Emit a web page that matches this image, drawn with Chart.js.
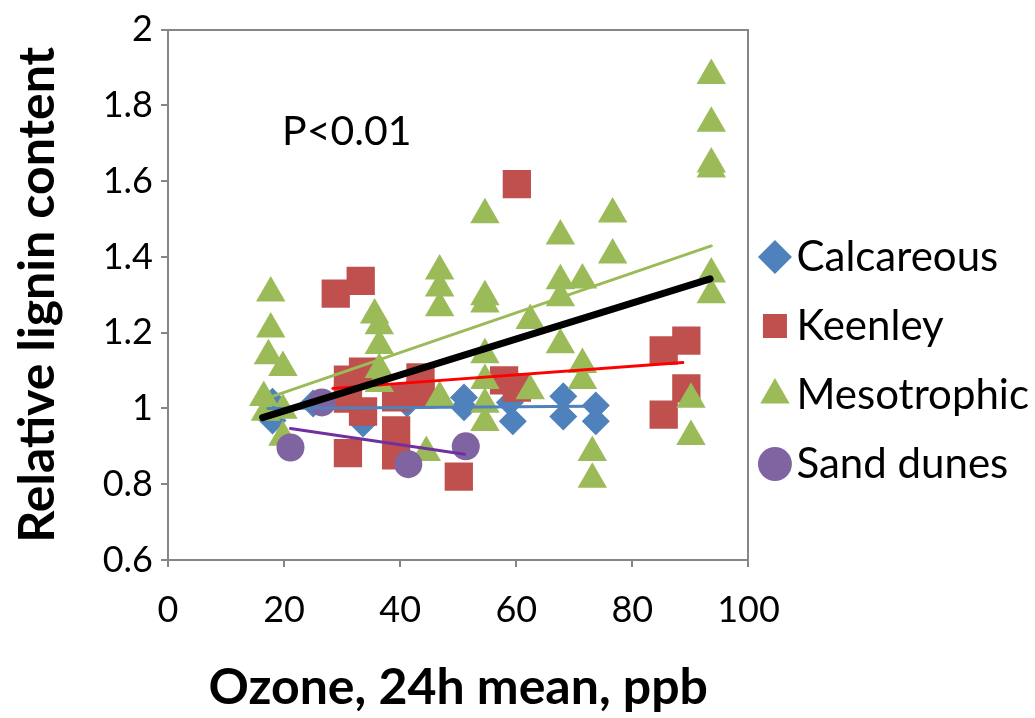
<!DOCTYPE html>
<html>
<head>
<meta charset="utf-8">
<script src="https://cdn.jsdelivr.net/npm/chart.js@4.4.1/dist/chart.umd.min.js"></script>
<style>
  html, body { margin: 0; padding: 0; background: #fff; }
</style>
</head>
<body>
<canvas id="grafica" width="1035" height="718"></canvas>
<script>
// 🔹 DATOS
const categorias = ['Calcareous', 'Keenley', 'Mesotrophic', 'Sand dunes'];

const calcareousX = [18, 18, 25, 33.6, 41.2, 51, 51, 58.9, 59.4, 68.1, 68.1, 73.7, 73.7];
const calcareousY = [1.018, 0.968, 1.013, 0.96, 1.013, 1.029, 1.003, 1.016, 0.966, 1.032, 0.979, 1.008, 0.966];

const keenleyX = [28.9, 33.2, 31.0, 31.0, 33.6, 33.6, 31.0, 39.3, 39.3, 39.3, 43.5, 43.5, 50.1, 57.9, 60.1, 60.1, 85.4, 89.3, 85.4, 89.3];
const keenleyY = [1.303, 1.337, 1.076, 1.026, 1.097, 0.992, 0.882, 1.029, 0.942, 0.876, 1.082, 1.037, 0.82, 1.074, 1.055, 1.592, 1.153, 1.179, 0.984, 1.053];

const mesoX = [17.7, 17.7, 17.3, 19.8, 16.5, 16.8, 19.8, 19.8,
  35.6, 36.4, 36.4, 36.4, 36.4,
  46.8, 46.8, 46.8, 46.8, 44.5,
  54.6, 54.6, 54.6, 54.6, 54.6, 54.6, 54.6,
  62.4, 62.4, 67.6, 67.6, 67.6, 67.6,
  71.4, 71.4, 71.4, 73.1, 73.1, 76.6, 76.6,
  90.1, 90.1, 93.6, 93.6, 93.6, 93.6, 93.6, 93.6];
const mesoY = [1.305, 1.21, 1.139, 1.108, 1.029, 0.99, 0.995, 0.924,
  1.247, 1.218, 1.166, 1.103, 1.066,
  1.363, 1.318, 1.266, 1.029, 0.884,
  1.511, 1.295, 1.276, 1.142, 1.074, 1.011, 0.963,
  1.232, 1.047, 1.455, 1.337, 1.292, 1.168,
  1.339, 1.116, 1.074, 0.884, 0.813, 1.513, 1.405,
  1.024, 0.926, 1.879, 1.753, 1.645, 1.632, 1.355, 1.30];

const sandX = [21.1, 26.5, 41.4, 51.3];
const sandY = [0.897, 1.016, 0.853, 0.90];

// líneas de tendencia: [x inicio, x fin] y [y inicio, y fin]
const tendCalcX = [17.2, 72.4], tendCalcY = [1.0, 1.006];
const tendKeenX = [28.4, 88.7], tendKeenY = [1.053, 1.121];
const tendMesoX = [18, 93.6], tendMesoY = [1.032, 1.429];
const tendSandX = [21.1, 51.1], tendSandY = [0.947, 0.879];
const tendTodoX = [16.3, 93.4], tendTodoY = [0.976, 1.342];

const xTicks = [0, 20, 40, 60, 80, 100];
const yTicks = [0.6, 0.8, 1, 1.2, 1.4, 1.6, 1.8, 2];
const yTickLabels = ['0.6', '0.8', '1', '1.2', '1.4', '1.6', '1.8', '2'];

const pTexto = 'P<0.01';
const pPos = [30.8, 1.73];

const puntos = (xs, ys) => xs.map((x, i) => ({ x: x, y: ys[i] }));

const GRIS = '#868686';
const FUENTE = 'Lato';

// 🔹 TEXTO P<0.01
const textoP = {
  id: 'textoP',
  afterDatasetsDraw(chart) {
    const { ctx, scales } = chart;
    ctx.save();
    ctx.font = '41px ' + FUENTE;
    ctx.fillStyle = '#000';
    ctx.textAlign = 'center';
    ctx.textBaseline = 'middle';
    ctx.fillText(pTexto, scales.x.getPixelForValue(pPos[0]), scales.y.getPixelForValue(pPos[1]));
    ctx.restore();
  }
};

function lineaTend(xs, ys, color, ancho, orden) {
  return {
    type: 'line',
    data: puntos(xs, ys),
    borderColor: color,
    borderWidth: ancho,
    borderCapStyle: 'round',
    pointRadius: 0,
    fill: false,
    order: orden
  };
}

function dibujar() {
  const ctx = document.getElementById('grafica').getContext('2d');

  new Chart(ctx, {
    type: 'scatter',
    data: {
      datasets: [
        { label: categorias[0], data: puntos(calcareousX, calcareousY), pointStyle: 'rectRot', pointRadius: 14,
          backgroundColor: '#4F81BD', borderColor: '#4F81BD', borderWidth: 0, order: 8 },
        { label: categorias[1], data: puntos(keenleyX, keenleyY), pointStyle: 'rect', pointRadius: 20,
          backgroundColor: '#C0504D', borderColor: '#C0504D', borderWidth: 0, order: 7 },
        { label: categorias[2], data: puntos(mesoX, mesoY), pointStyle: 'triangle', pointRadius: 17,
          backgroundColor: '#9BBB59', borderColor: '#9BBB59', borderWidth: 0, order: 6 },
        { label: categorias[3], data: puntos(sandX, sandY), pointStyle: 'circle', pointRadius: 14,
          backgroundColor: '#8064A2', borderColor: '#8064A2', borderWidth: 0, order: 5 },
        lineaTend(tendCalcX, tendCalcY, '#4F81BD', 3, 4),
        lineaTend(tendKeenX, tendKeenY, '#FF0000', 3, 3),
        lineaTend(tendMesoX, tendMesoY, '#9BBB59', 3, 2),
        lineaTend(tendSandX, tendSandY, '#7030A0', 3, 1),
        lineaTend(tendTodoX, tendTodoY, '#000000', 7, 0)
      ]
    },
    options: {
      responsive: false,
      animation: false,
      events: [],
      layout: { padding: { top: 4, right: -4, bottom: 0, left: 0 } },
      plugins: {
        tooltip: { enabled: false },
        legend: {
          position: 'right',
          maxWidth: 340,
          labels: {
            usePointStyle: true,
            boxWidth: 1,
            boxHeight: 24,
            padding: 26,
            color: '#000',
            font: { family: FUENTE, size: 42, lineHeight: 1.024 },
            // texto en arreglo para que la altura de cada fila use lineHeight
            generateLabels: chart => Chart.defaults.plugins.legend.labels.generateLabels(chart)
              .map(item => Object.assign(item, { text: [item.text] })),
            filter: item => item.datasetIndex < 4,
            sort: (a, b) => a.datasetIndex - b.datasetIndex
          }
        }
      },
      scales: {
        x: {
          type: 'linear',
          min: 0,
          max: 100,
          afterBuildTicks: s => { s.ticks = xTicks.map(v => ({ value: v })); },
          afterFit: s => { s.height = 158; },
          ticks: { color: '#000', font: { family: FUENTE, size: 36 }, padding: 22 },
          grid: { drawOnChartArea: false, drawTicks: true, tickLength: 7, color: GRIS, lineWidth: 2 },
          border: { color: GRIS, width: 2 },
          title: {
            display: true,
            text: 'Ozone, 24h mean, ppb',
            color: '#000',
            font: { family: FUENTE, size: 50, weight: 'bold' },
            padding: { top: 0, bottom: 0 }
          }
        },
        x2: {
          type: 'linear',
          position: 'top',
          min: 0,
          max: 100,
          afterFit: s => { s.height = 24; },
          ticks: { display: false },
          grid: { display: false },
          border: { color: GRIS, width: 2 }
        },
        y: {
          type: 'linear',
          min: 0.6,
          max: 2,
          afterBuildTicks: s => { s.ticks = yTicks.map(v => ({ value: v })); },
          afterFit: s => { s.width = 168; },
          ticks: {
            color: '#000',
            font: { family: FUENTE, size: 36 },
            padding: 8,
            callback: (v, i) => yTickLabels[i]
          },
          grid: { drawOnChartArea: false, drawTicks: true, tickLength: 7, color: GRIS, lineWidth: 2 },
          border: { color: GRIS, width: 2 },
          title: {
            display: true,
            text: 'Relative lignin content',
            color: '#000',
            font: { family: FUENTE, size: 50, weight: 'bold' },
            padding: { top: 8, bottom: 0 }
          }
        },
        y2: {
          type: 'linear',
          position: 'right',
          min: 0.6,
          max: 2,
          afterFit: s => { s.width = 0; },
          ticks: { display: false },
          grid: { display: false },
          border: { color: GRIS, width: 2 }
        }
      }
    },
    plugins: [textoP]
  });
}

Promise.all([
  document.fonts.load('36px ' + FUENTE),
  document.fonts.load('bold 50px ' + FUENTE)
]).then(dibujar, dibujar);
</script>
</body>
</html>
